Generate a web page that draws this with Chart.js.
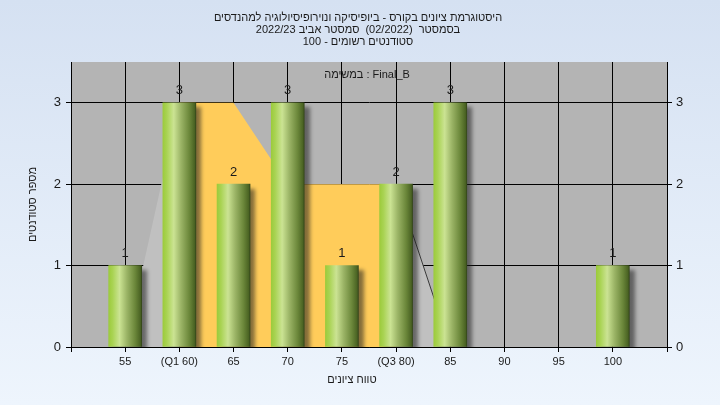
<!DOCTYPE html>
<html>
<head>
<meta charset="utf-8">
<script src="https://cdn.jsdelivr.net/npm/chart.js@4"></script>
<style>
  html, body { margin: 0; padding: 0; }
  #wrap { width: 720px; height: 405px; }
</style>
</head>
<body>
<div id="wrap"><canvas id="histogram" width="720" height="405"></canvas></div>
<script>
const titleLines = [
  'היסטוגרמת ציונים בקורס - ביופיסיקה ונוירופיסיולוגיה למהנדסים',
  'בסמסטר  (02/2022)  סמסטר אביב 2022/23',
  'סטודנטים רשומים - 100'
]
const taskLabel = 'במשימה : Final_B'
const xAxisTitle = 'טווח ציונים'
const yAxisTitle = 'מספר סטודנטים'

const grades = [55, 60, 65, 70, 75, 80, 85, 90, 95, 100]
const gradeLabels = ['55', '(Q1 60)', '65', '70', '75', '(Q3 80)', '85', '90', '95', '100']
const counts = [1, 3, 2, 3, 1, 2, 3, 0, 0, 1]
const q1 = 60
const q3 = 80
// outline of the quartile box area behind the bars
const boxX = [55, 60, 65, 70, 75, 80, 85]
const boxY = [0, 3, 3, 2, 2, 2, 0]

const FONT = "'Liberation Sans', 'DejaVu Sans', Arial, sans-serif"
const TEXT = '#1a1a1a'
const BAR_W = 33

Chart.defaults.font.family = FONT
Chart.defaults.color = TEXT

function barFill(c) {
  const xs = c.chart.scales.x
  if (!xs || c.type !== 'data') return '#8fae4c'
  const cx = xs.getPixelForValue(grades[c.dataIndex])
  if (!isFinite(cx)) return '#8fae4c'
  const g = c.chart.ctx.createLinearGradient(cx - BAR_W / 2, 0, cx + BAR_W / 2, 0)
  g.addColorStop(0, '#9ccb3c')
  g.addColorStop(0.12, '#a9d353')
  g.addColorStop(0.33, '#cbe393')
  g.addColorStop(0.55, '#9bb466')
  g.addColorStop(0.8, '#6b873a')
  g.addColorStop(0.96, '#4a6323')
  g.addColorStop(1, '#34461a')
  return g
}

const paintPlugin = {
  id: 'paint',
  beforeDraw(chart) {
    const {ctx, chartArea: a, width, height} = chart
    ctx.save()
    const bg = ctx.createLinearGradient(0, 0, 0, height)
    bg.addColorStop(0, '#d5e1f2')
    bg.addColorStop(1, '#eef5fd')
    ctx.fillStyle = bg
    ctx.fillRect(0, 0, width, height)
    ctx.fillStyle = '#b4b4b4'
    ctx.fillRect(a.left, a.top, a.right - a.left, a.bottom - a.top)
    ctx.restore()
  },
  beforeDatasetDraw(chart, args) {
    if (args.meta.type !== 'bar') return
    const ctx = chart.ctx
    ctx.save()
    ctx.shadowColor = 'rgba(30,30,30,0.55)'
    ctx.shadowOffsetX = 5
    ctx.shadowOffsetY = 5
    ctx.shadowBlur = 4
  },
  afterDatasetDraw(chart, args) {
    if (args.meta.type !== 'bar') return
    chart.ctx.restore()
  },
  afterDraw(chart) {
    const {ctx, chartArea: a} = chart
    ctx.save()
    ctx.textAlign = 'center'
    ctx.textBaseline = 'middle'
    ctx.fillStyle = TEXT

    // value labels above bars
    ctx.font = '13px ' + FONT
    const meta = chart.getDatasetMeta(1)
    meta.data.forEach((bar, i) => {
      if (counts[i] > 0) ctx.fillText(String(counts[i]), bar.x, bar.y - 12)
    })

    // task label inside the plot
    ctx.direction = 'ltr'
    ctx.font = '11px ' + FONT
    ctx.fillText(taskLabel, 367, a.top + 13)

    // x axis title
    ctx.fillText(xAxisTitle, 352, 380)

    // chart title
    ctx.direction = 'rtl'
    titleLines.forEach((t, i) => ctx.fillText(t, 358, 18 + i * 12))
    ctx.restore()
  }
}

const ctx = document.getElementById('histogram').getContext('2d')

new Chart(ctx, {
  type: 'bar',
  data: {
    datasets: [{
      type: 'line',
      label: 'box',
      order: 2,
      data: boxX.map((x, i) => ({x, y: boxY[i]})),
      fill: 'origin',
      tension: 0,
      pointRadius: 0,
      borderWidth: 1,
      borderColor: 'rgba(0,0,0,0)',
      backgroundColor: '#c0c0c0',
      segment: {
        backgroundColor: s => (s.p0.parsed.x >= q1 && s.p1.parsed.x <= q3) ? '#ffcc5a' : '#c0c0c0',
        borderColor: s => s.p0.parsed.x >= q3 ? '#3a3a3a' : 'rgba(0,0,0,0)'
      }
    }, {
      type: 'bar',
      label: 'counts',
      order: 1,
      // empty classes draw no bar at all
      data: grades.map((x, i) => ({x, y: counts[i] > 0 ? counts[i] : null})),
      barThickness: BAR_W,
      grouped: false,
      borderWidth: 0,
      backgroundColor: barFill
    }]
  },
  options: {
    responsive: false,
    animation: false,
    events: [],
    layout: { padding: { top: 62, left: 0, right: 0, bottom: 0 } },
    plugins: {
      legend: { display: false },
      tooltip: { enabled: false },
      title: { display: false }
    },
    scales: {
      x: {
        type: 'linear',
        min: 50,
        max: 105,
        offset: false,
        grid: { color: '#000', tickLength: 5, offset: false },
        border: { color: '#000' },
        ticks: {
          stepSize: 5,
          autoSkip: false,
          maxRotation: 0,
          padding: 3,
          color: TEXT,
          font: { size: 11 },
          callback: v => {
            const i = grades.indexOf(v)
            return i >= 0 ? gradeLabels[i] : ''
          }
        },
        afterFit: s => { s.height = 58 }
      },
      y: {
        position: 'left',
        min: 0,
        max: 3.5,
        grid: { color: '#000', tickLength: 5 },
        border: { color: '#000' },
        ticks: { stepSize: 1, includeBounds: false, padding: 5, color: TEXT, font: { size: 13 } },
        title: { display: true, text: yAxisTitle, color: TEXT, font: { size: 11 }, padding: { top: 26, bottom: 0 } },
        afterFit: s => { s.width = 71 }
      },
      y2: {
        position: 'right',
        min: 0,
        max: 3.5,
        grid: { color: '#000', tickLength: 5, drawOnChartArea: false },
        border: { color: '#000' },
        ticks: { stepSize: 1, includeBounds: false, padding: 4, color: TEXT, font: { size: 13 } },
        afterFit: s => { s.width = 53 }
      }
    }
  },
  plugins: [paintPlugin]
})
</script>
</body>
</html>
